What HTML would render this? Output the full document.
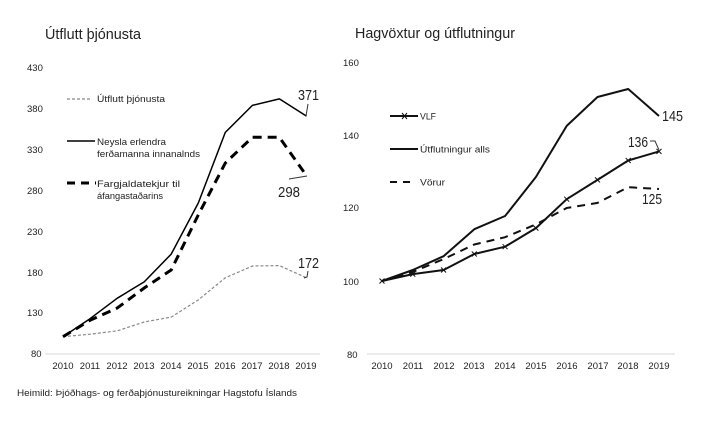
<!DOCTYPE html>
<html>
<head>
<meta charset="utf-8">
<style>
  html,body{margin:0;padding:0;background:#fff;}
  svg{display:block;}
  text{font-family:"Liberation Sans", sans-serif;fill:#222;}
</style>
</head>
<body>
<svg width="713" height="422" viewBox="0 0 713 422" xmlns="http://www.w3.org/2000/svg">
  <rect width="713" height="422" fill="#fff"/>

  <!-- LEFT CHART -->
  <text x="45" y="39" font-size="15" textLength="96" lengthAdjust="spacingAndGlyphs">Útflutt þjónusta</text>

  <g font-size="9.5" fill="#333">
    <text x="27" y="71">430</text>
    <text x="27" y="112">380</text>
    <text x="27" y="153">330</text>
    <text x="27" y="194">280</text>
    <text x="27" y="235">230</text>
    <text x="27" y="276">180</text>
    <text x="27" y="316">130</text>
    <text x="31" y="357">80</text>
  </g>

  <line x1="45" y1="354" x2="320" y2="354" stroke="#d9d9d9" stroke-width="1"/>

  <g font-size="9.5" fill="#333" text-anchor="middle">
    <text x="63" y="369">2010</text>
    <text x="90" y="369">2011</text>
    <text x="117" y="369">2012</text>
    <text x="144" y="369">2013</text>
    <text x="171" y="369">2014</text>
    <text x="198" y="369">2015</text>
    <text x="225" y="369">2016</text>
    <text x="252" y="369">2017</text>
    <text x="279" y="369">2018</text>
    <text x="306" y="369">2019</text>
  </g>

  <!-- legend left -->
  <line x1="67" y1="99" x2="91" y2="99" stroke="#888" stroke-width="1.2" stroke-dasharray="3,2"/>
  <text x="97" y="102" font-size="9.5" textLength="68" lengthAdjust="spacingAndGlyphs">Útflutt þjónusta</text>
  <line x1="67" y1="141" x2="95" y2="141" stroke="#000" stroke-width="1.5"/>
  <text x="97" y="145" font-size="9.5" textLength="69" lengthAdjust="spacingAndGlyphs">Neysla erlendra</text>
  <text x="97" y="157" font-size="9.5" textLength="103" lengthAdjust="spacingAndGlyphs">ferðamanna innanalnds</text>
  <line x1="67" y1="183" x2="96" y2="183" stroke="#000" stroke-width="3" stroke-dasharray="8,6"/>
  <text x="97" y="187" font-size="9.5" textLength="83" lengthAdjust="spacingAndGlyphs">Fargjaldatekjur til</text>
  <text x="97" y="199" font-size="9.5" textLength="66" lengthAdjust="spacingAndGlyphs">áfangastaðarins</text>

  <!-- series left -->
  <polyline fill="none" stroke="#888" stroke-width="1.2" stroke-dasharray="3,2"
    points="63,336.7 90,334.2 117.1,330.9 144.2,322 171.2,317.1 198.3,299.9 225.3,277.8 252.4,266 279.4,265.6 306.5,277.8"/>
  <polyline fill="none" stroke="#000" stroke-width="1.5" stroke-linejoin="round"
    points="63,336.7 90,318.7 117.1,298.3 144.2,281.9 171.2,254.1 198.3,203 225.3,132.4 252.4,105.4 279.4,98.9 306.5,116.1"/>
  <polyline fill="none" stroke="#000" stroke-width="3" stroke-dasharray="9,6"
    points="63,336.7 90,320.3 117.1,308.1 144.2,288 171.2,270 198.3,214.9 225.3,163 252.4,137.3 279.4,137.3 306.5,175.7"/>

  <!-- data labels left -->
  <text x="298" y="100" font-size="14.5" textLength="21" lengthAdjust="spacingAndGlyphs">371</text>
  <polyline points="308,104 306,116" fill="none" stroke="#333" stroke-width="1"/>
  <text x="278" y="197" font-size="14.5" textLength="22" lengthAdjust="spacingAndGlyphs">298</text>
  <polyline points="289,179 307,176" fill="none" stroke="#333" stroke-width="1"/>
  <text x="298" y="268" font-size="14.5" textLength="21" lengthAdjust="spacingAndGlyphs">172</text>
  <polyline points="308,271 307,277 304,278" fill="none" stroke="#333" stroke-width="1"/>

  <!-- footer -->
  <text x="17" y="396" font-size="9.5" textLength="280" lengthAdjust="spacingAndGlyphs">Heimild: Þjóðhags- og ferðaþjónustureikningar Hagstofu Íslands</text>

  <!-- RIGHT CHART -->
  <text x="355" y="38" font-size="15" textLength="160" lengthAdjust="spacingAndGlyphs">Hagvöxtur og útflutningur</text>

  <g font-size="9.5" fill="#333">
    <text x="343" y="66">160</text>
    <text x="343" y="139">140</text>
    <text x="343" y="211">120</text>
    <text x="343" y="285">100</text>
    <text x="347" y="358">80</text>
  </g>

  <line x1="367" y1="354" x2="675" y2="354" stroke="#d9d9d9" stroke-width="1"/>

  <g font-size="9.5" fill="#333" text-anchor="middle">
    <text x="382" y="369">2010</text>
    <text x="413" y="369">2011</text>
    <text x="444" y="369">2012</text>
    <text x="474" y="369">2013</text>
    <text x="505" y="369">2014</text>
    <text x="536" y="369">2015</text>
    <text x="567" y="369">2016</text>
    <text x="598" y="369">2017</text>
    <text x="628" y="369">2018</text>
    <text x="659" y="369">2019</text>
  </g>

  <!-- legend right -->
  <line x1="390" y1="116" x2="418" y2="116" stroke="#111" stroke-width="2"/>
  <path d="M402,113 L407,119 M407,113 L402,119" stroke="#111" stroke-width="1"/>
  <text x="420" y="119.5" font-size="9.5" textLength="16" lengthAdjust="spacingAndGlyphs">VLF</text>
  <line x1="390" y1="149" x2="418" y2="149" stroke="#111" stroke-width="2"/>
  <text x="420" y="152.5" font-size="9.5" textLength="70" lengthAdjust="spacingAndGlyphs">Útflutningur alls</text>
  <line x1="390" y1="182" x2="414" y2="182" stroke="#111" stroke-width="2" stroke-dasharray="7,6"/>
  <text x="420" y="185.5" font-size="9.5" textLength="25" lengthAdjust="spacingAndGlyphs">Vörur</text>

  <!-- series right -->
  <polyline fill="none" stroke="#111" stroke-width="2" stroke-dasharray="8,6"
    points="382,281 412.8,271.9 443.6,259.1 474.3,244.5 505.1,237.2 535.9,224.4 566.7,208 597.5,202.9 628.2,187.2 659,189"/>
  <polyline fill="none" stroke="#111" stroke-width="2" stroke-linejoin="round"
    points="382,281 412.8,270 443.6,256.2 474.3,229.2 505.1,216 535.9,177 566.7,125.9 597.5,97 628.2,89 659,116"/>
  <polyline fill="none" stroke="#111" stroke-width="2" stroke-linejoin="round"
    points="382,281 412.8,274.1 443.6,270 474.3,254 505.1,246.7 535.9,228.1 566.7,199.2 597.5,179.9 628.2,160.5 659,151.4"/>
  <g stroke="#111" stroke-width="1">
    <path d="M379.5,278.5l5,5m0,-5l-5,5"/>
    <path d="M410.3,271.6l5,5m0,-5l-5,5"/>
    <path d="M441.1,267.5l5,5m0,-5l-5,5"/>
    <path d="M471.8,251.5l5,5m0,-5l-5,5"/>
    <path d="M502.6,244.2l5,5m0,-5l-5,5"/>
    <path d="M533.4,225.6l5,5m0,-5l-5,5"/>
    <path d="M564.2,196.7l5,5m0,-5l-5,5"/>
    <path d="M595,177.4l5,5m0,-5l-5,5"/>
    <path d="M625.7,158l5,5m0,-5l-5,5"/>
    <path d="M656.5,148.9l5,5m0,-5l-5,5"/>
  </g>

  <!-- data labels right -->
  <text x="662" y="121" font-size="14.5" textLength="21" lengthAdjust="spacingAndGlyphs">145</text>
  <text x="628" y="147" font-size="14.5" textLength="20" lengthAdjust="spacingAndGlyphs">136</text>
  <polyline points="650,141 655,141 659,150" fill="none" stroke="#333" stroke-width="1"/>
  <text x="642" y="204" font-size="14.5" textLength="20" lengthAdjust="spacingAndGlyphs">125</text>
</svg>
</body>
</html>
